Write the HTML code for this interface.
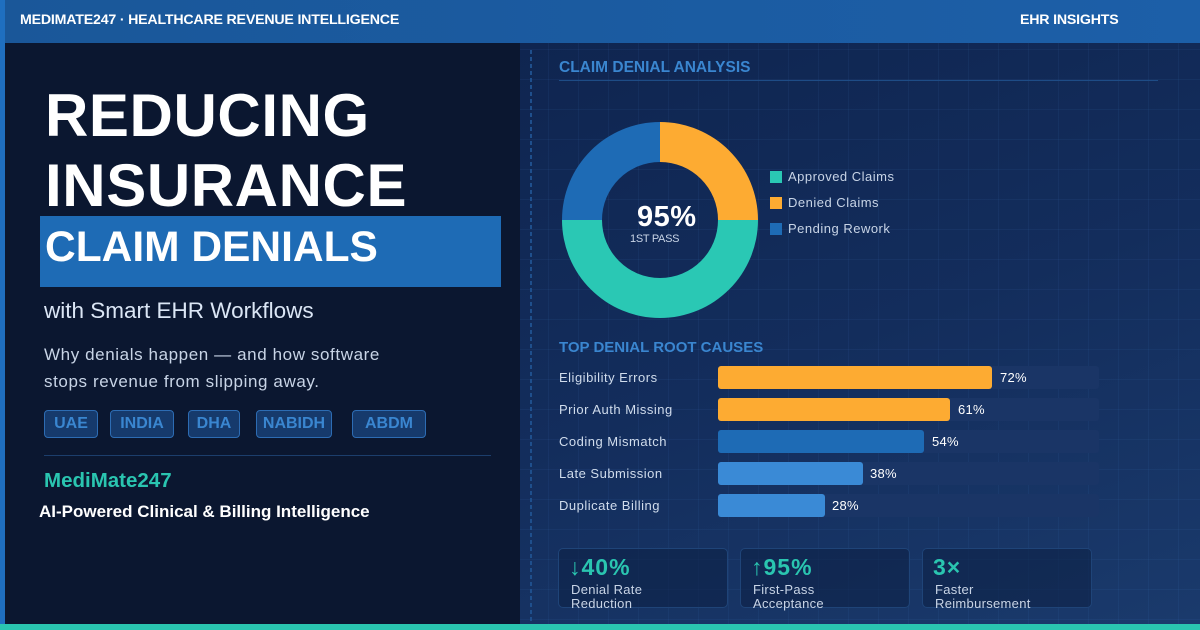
<!DOCTYPE html>
<html><head><meta charset="utf-8">
<style>
*{margin:0;padding:0;box-sizing:border-box}
html,body{width:1200px;height:630px;overflow:hidden;background:#0b1730;font-family:"Liberation Sans",sans-serif}
.a{position:absolute;white-space:nowrap}
#hdr{left:0;top:0;width:1200px;height:43px;background:linear-gradient(90deg,#1a5799,#1c5fa8)}
#stripe{left:0;top:0;width:5px;height:630px;background:#1f6fc0}
#leftp{left:5px;top:43px;width:515px;height:581px;background:#0b1730}
#rightp{left:520px;top:43px;width:680px;height:581px;background:linear-gradient(160deg,#0f2550 0%,#132d5c 50%,#1a3a6c 100%)}
#grid{left:520px;top:43px;width:680px;height:581px;
background-image:linear-gradient(90deg,rgba(70,130,210,0.08) 1px,transparent 1px),linear-gradient(0deg,rgba(70,130,210,0.08) 1px,transparent 1px);
background-size:30px 30px;background-position:28px 7px}
#dash{left:530px;top:50px;width:2px;height:574px;background:repeating-linear-gradient(180deg,#1f4f8c 0 4px,transparent 4px 7px)}
#bottom{left:0;top:624px;width:1200px;height:6px;background:#2ac5b0}
.h1{color:#fff;font-weight:bold;font-size:60px;left:45px;letter-spacing:0.6px}
.tag{position:absolute;top:410px;height:28px;border:1px solid #2d6cb3;background:#163a6c;border-radius:4px;color:#3a86d0;font-weight:bold;font-size:16px;line-height:26px;text-align:center}
.sec{color:#3a86d0;font-weight:bold;font-size:15.5px}
.leg{color:#c8d4e6;font-size:13px;left:788px;letter-spacing:0.5px}
.sq{position:absolute;left:770px;width:12px;height:12px}
.lbl{color:#d0dcec;font-size:13px;left:559px;letter-spacing:0.5px}
.track{position:absolute;left:718px;width:381px;height:23px;background:#1a3566;border-radius:3px}
.fill{position:absolute;left:718px;height:23px;border-radius:3px}
.pct{color:#fff;font-size:13px;letter-spacing:0.3px}
.card{position:absolute;top:548px;width:170px;height:60px;border:1px solid #1f4478;background:rgba(14,34,70,0.6);border-radius:5px}
.cv{color:#2ac5b0;font-weight:bold;font-size:23px;letter-spacing:1px}
.ct{color:#c8d4e6;font-size:13px;line-height:14px;letter-spacing:0.3px}
</style></head><body>
<div class="a" id="leftp"></div>
<div class="a" id="rightp"></div>
<div class="a" id="grid"></div>
<div class="a" id="dash"></div>
<div class="a" id="hdr"></div>
<div class="a" id="stripe"></div>
<div class="a" id="bottom"></div>

<div class="a" style="left:20px;top:11px;color:#fff;font-weight:bold;font-size:14.2px;line-height:18px;letter-spacing:-0.2px">MEDIMATE247 · HEALTHCARE REVENUE INTELLIGENCE</div>
<div class="a" style="left:1020px;top:11px;color:#fff;font-weight:bold;font-size:14.2px;line-height:18px;letter-spacing:-0.2px">EHR INSIGHTS</div>

<div class="a h1" style="top:81px;line-height:70px">REDUCING</div>
<div class="a h1" style="top:151px;line-height:70px">INSURANCE</div>
<div class="a" style="left:40px;top:216px;width:461px;height:71px;background:#1e6bb5"></div>
<div class="a" style="left:45px;top:224px;color:#fff;font-weight:bold;font-size:42.5px;line-height:48px">CLAIM DENIALS</div>

<div class="a" style="left:44px;top:297px;color:#dbe6f5;font-size:22.5px;line-height:28px">with Smart EHR Workflows</div>
<div class="a" style="left:44px;top:341px;color:#c8d4e6;font-size:17px;line-height:27px;letter-spacing:0.6px">Why denials happen — and how software<br>stops revenue from slipping away.</div>

<div class="tag" style="left:44px;width:54px">UAE</div>
<div class="tag" style="left:110px;width:64px">INDIA</div>
<div class="tag" style="left:188px;width:52px">DHA</div>
<div class="tag" style="left:256px;width:76px">NABIDH</div>
<div class="tag" style="left:352px;width:74px">ABDM</div>

<div class="a" style="left:44px;top:455px;width:447px;height:1px;background:#1c3e6c"></div>
<div class="a" style="left:44px;top:469px;color:#2ac5b0;font-weight:bold;font-size:20.5px;line-height:24px">MediMate247</div>
<div class="a" style="left:39px;top:501px;color:#fff;font-weight:bold;font-size:17px;line-height:22px">AI-Powered Clinical &amp; Billing Intelligence</div>

<div class="a sec" style="left:559px;top:59px;line-height:18px">CLAIM DENIAL ANALYSIS</div>
<div class="a" style="left:559px;top:80px;width:599px;height:1px;background:#1e4c86"></div>

<svg class="a" style="left:0;top:0" width="1200" height="630" viewBox="0 0 1200 630">
<path d="M660,122 A98,98 0 0 1 758,220 L718,220 A58,58 0 0 0 660,162 Z" fill="#fdab32"/>
<path d="M758,220 A98,98 0 0 1 562,220 L602,220 A58,58 0 0 0 718,220 Z" fill="#2ac8b4"/>
<path d="M562,220 A98,98 0 0 1 660,122 L660,162 A58,58 0 0 0 602,220 Z" fill="#1e6bb5"/>
</svg>
<div class="a" style="left:637px;top:201px;color:#fff;font-weight:bold;font-size:29px;line-height:32px;letter-spacing:0.5px">95%</div>
<div class="a" style="left:630px;top:232px;color:#c8d4e6;font-size:11px;line-height:14px;letter-spacing:-0.3px">1ST PASS</div>

<div class="sq" style="top:171px;background:#2ac8b4"></div>
<div class="sq" style="top:197px;background:#fdab32"></div>
<div class="sq" style="top:223px;background:#1e6bb5"></div>
<div class="a leg" style="top:169px;line-height:16px">Approved Claims</div>
<div class="a leg" style="top:195px;line-height:16px">Denied Claims</div>
<div class="a leg" style="top:221px;line-height:16px">Pending Rework</div>

<div class="a sec" style="left:559px;top:339px;line-height:18px;font-size:15px">TOP DENIAL ROOT CAUSES</div>

<div class="track" style="top:366px"></div>
<div class="track" style="top:398px"></div>
<div class="track" style="top:430px"></div>
<div class="track" style="top:462px"></div>
<div class="track" style="top:494px"></div>
<div class="fill" style="top:366px;width:274px;background:#fdab32"></div>
<div class="fill" style="top:398px;width:232px;background:#fdab32"></div>
<div class="fill" style="top:430px;width:206px;background:#1e6bb5"></div>
<div class="fill" style="top:462px;width:145px;background:#3a8ad6"></div>
<div class="fill" style="top:494px;width:107px;background:#3a8ad6"></div>

<div class="a lbl" style="top:370px;line-height:16px">Eligibility Errors</div>
<div class="a lbl" style="top:402px;line-height:16px">Prior Auth Missing</div>
<div class="a lbl" style="top:434px;line-height:16px">Coding Mismatch</div>
<div class="a lbl" style="top:466px;line-height:16px">Late Submission</div>
<div class="a lbl" style="top:498px;line-height:16px">Duplicate Billing</div>
<div class="a pct" style="left:1000px;top:370px;line-height:16px">72%</div>
<div class="a pct" style="left:958px;top:402px;line-height:16px">61%</div>
<div class="a pct" style="left:932px;top:434px;line-height:16px">54%</div>
<div class="a pct" style="left:870px;top:466px;line-height:16px">38%</div>
<div class="a pct" style="left:832px;top:498px;line-height:16px">28%</div>

<div class="card" style="left:558px"></div>
<div class="card" style="left:740px"></div>
<div class="card" style="left:922px"></div>
<div class="a cv" style="left:569px;top:554px;line-height:26px">↓40%</div>
<div class="a cv" style="left:751px;top:554px;line-height:26px">↑95%</div>
<div class="a cv" style="left:933px;top:554px;line-height:26px">3×</div>
<div class="a ct" style="left:571px;top:583px">Denial Rate<br>Reduction</div>
<div class="a ct" style="left:753px;top:583px">First-Pass<br>Acceptance</div>
<div class="a ct" style="left:935px;top:583px">Faster<br>Reimbursement</div>
</body></html>
